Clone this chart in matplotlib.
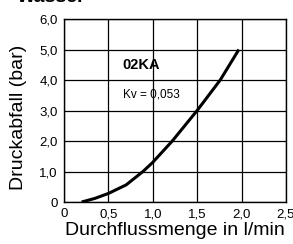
import matplotlib.pyplot as plt

plt.rcParams['font.family'] = ['Liberation Sans', 'DejaVu Sans']

# flow (l/min) vs pressure drop (bar)
flow = [0.2, 0.35, 0.5, 0.7, 0.89, 1.0, 1.22, 1.5, 1.76, 1.97]
drop = [0.0, 0.12, 0.28, 0.56, 1.0, 1.3, 2.0, 3.0, 4.0, 5.0]

xticks = [0, 0.5, 1.0, 1.5, 2.0, 2.5]
xlabels = ['0', '0,5', '1,0', '1,5', '2,0', '2,5']
yticks = [0, 1, 2, 3, 4, 5, 6]
ylabels = ['0', '1,0', '2,0', '3,0', '4,0', '5,0', '6,0']

fig = plt.figure(figsize=(2.93, 2.44), dpi=100)
ax = fig.add_axes([0.218, 0.172, 0.758, 0.75])

ax.plot(flow, drop, color='black', lw=2.2, solid_capstyle='butt')

ax.set_xlim(0, 2.5)
ax.set_ylim(0, 6)
ax.set_xticks(xticks)
ax.set_xticklabels(xlabels, fontsize=9.5)
ax.set_yticks(yticks)
ax.set_yticklabels(ylabels, fontsize=9.5)
ax.tick_params(length=0, pad=4.5)
ax.grid(True, color='black', lw=0.9)
for s in ax.spines.values():
    s.set_linewidth(1.0)

ax.set_xlabel('Durchflussmenge in l/min', fontsize=14, labelpad=1)
ax.set_ylabel('Druckabfall (bar)', fontsize=14)
ax.yaxis.set_label_coords(-0.165, 0.46)

ax.text(0.66, 4.49, '02KA', fontsize=10.5, fontweight='bold', va='center')
ax.text(0.66, 3.54, 'Kv = 0,053', fontsize=8.5, va='center')

fig.text(0.058, 0.99, 'Wasser', fontsize=14, fontweight='bold', va='baseline')

fig.savefig('out.png', dpi=100)
